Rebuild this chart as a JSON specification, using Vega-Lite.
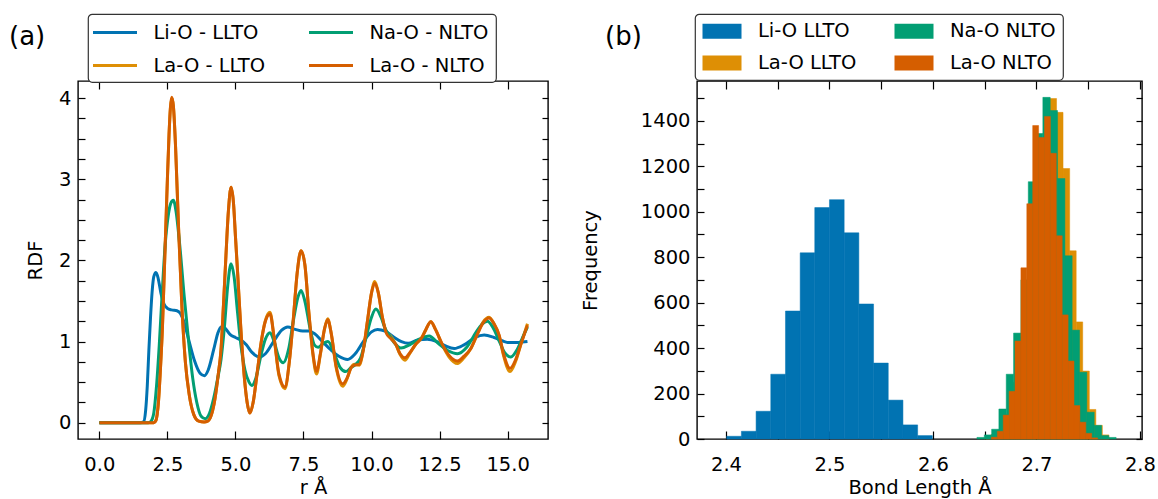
{
  "$schema": "https://vega.github.io/schema/vega-lite/v6.json",
  "background": "white",
  "padding": {"left": 8, "top": 12, "right": 0, "bottom": 0},
  "spacing": 29,
  "config": {
    "font": "DejaVu Sans",
    "view": {"stroke": "#000", "strokeWidth": 1.4},
    "axis": {"labelFont": "DejaVu Sans", "labelFontSize": 19.5, "labelColor": "#000", "titleFont": "DejaVu Sans", "titleFontSize": 19.5, "titleFontWeight": "normal", "titleColor": "#000", "tickColor": "#000", "tickWidth": 1.2, "domain": false, "grid": false, "labelFlush": false, "labelOverlap": false},
    "legend": {"labelFont": "DejaVu Sans", "labelFontSize": 19.5, "labelColor": "#000", "strokeColor": "#333", "strokeWidth": 1.2, "cornerRadius": 4, "fillColor": "#fff", "padding": 7, "rowPadding": 12}
  },
  "datasets": {
    "rdf": [
      {"series": "Li-O - LLTO", "r": 0, "rdf": 0}, {"series": "Li-O - LLTO", "r": 0.5, "rdf": 0}, {"series": "Li-O - LLTO", "r": 1.0, "rdf": 0}, {"series": "Li-O - LLTO", "r": 1.5, "rdf": 0}, {"series": "Li-O - LLTO", "r": 1.62, "rdf": 0.01}, {"series": "Li-O - LLTO", "r": 1.70, "rdf": 0.15}, {"series": "Li-O - LLTO", "r": 1.76, "rdf": 0.45}, {"series": "Li-O - LLTO", "r": 1.82, "rdf": 0.9}, {"series": "Li-O - LLTO", "r": 1.88, "rdf": 1.3}, {"series": "Li-O - LLTO", "r": 1.94, "rdf": 1.62}, {"series": "Li-O - LLTO", "r": 2.0, "rdf": 1.8}, {"series": "Li-O - LLTO", "r": 2.08, "rdf": 1.85}, {"series": "Li-O - LLTO", "r": 2.16, "rdf": 1.78}, {"series": "Li-O - LLTO", "r": 2.26, "rdf": 1.6}, {"series": "Li-O - LLTO", "r": 2.38, "rdf": 1.46}, {"series": "Li-O - LLTO", "r": 2.5, "rdf": 1.41}, {"series": "Li-O - LLTO", "r": 2.65, "rdf": 1.39}, {"series": "Li-O - LLTO", "r": 2.85, "rdf": 1.38}, {"series": "Li-O - LLTO", "r": 2.97, "rdf": 1.35}, {"series": "Li-O - LLTO", "r": 3.1, "rdf": 1.25}, {"series": "Li-O - LLTO", "r": 3.3, "rdf": 1.0}, {"series": "Li-O - LLTO", "r": 3.5, "rdf": 0.76}, {"series": "Li-O - LLTO", "r": 3.7, "rdf": 0.61}, {"series": "Li-O - LLTO", "r": 3.86, "rdf": 0.58}, {"series": "Li-O - LLTO", "r": 4.0, "rdf": 0.65}, {"series": "Li-O - LLTO", "r": 4.2, "rdf": 0.9}, {"series": "Li-O - LLTO", "r": 4.35, "rdf": 1.1}, {"series": "Li-O - LLTO", "r": 4.47, "rdf": 1.18}, {"series": "Li-O - LLTO", "r": 4.6, "rdf": 1.17}, {"series": "Li-O - LLTO", "r": 4.8, "rdf": 1.09}, {"series": "Li-O - LLTO", "r": 5.0, "rdf": 1.05}, {"series": "Li-O - LLTO", "r": 5.2, "rdf": 1.02}, {"series": "Li-O - LLTO", "r": 5.4, "rdf": 0.96}, {"series": "Li-O - LLTO", "r": 5.6, "rdf": 0.87}, {"series": "Li-O - LLTO", "r": 5.9, "rdf": 0.81}, {"series": "Li-O - LLTO", "r": 6.1, "rdf": 0.85}, {"series": "Li-O - LLTO", "r": 6.4, "rdf": 1.0}, {"series": "Li-O - LLTO", "r": 6.7, "rdf": 1.14}, {"series": "Li-O - LLTO", "r": 6.92, "rdf": 1.18}, {"series": "Li-O - LLTO", "r": 7.2, "rdf": 1.15}, {"series": "Li-O - LLTO", "r": 7.47, "rdf": 1.13}, {"series": "Li-O - LLTO", "r": 7.7, "rdf": 1.13}, {"series": "Li-O - LLTO", "r": 7.9, "rdf": 1.1}, {"series": "Li-O - LLTO", "r": 8.2, "rdf": 1.0}, {"series": "Li-O - LLTO", "r": 8.5, "rdf": 0.9}, {"series": "Li-O - LLTO", "r": 8.8, "rdf": 0.82}, {"series": "Li-O - LLTO", "r": 9.12, "rdf": 0.78}, {"series": "Li-O - LLTO", "r": 9.4, "rdf": 0.85}, {"series": "Li-O - LLTO", "r": 9.7, "rdf": 1.0}, {"series": "Li-O - LLTO", "r": 10.0, "rdf": 1.12}, {"series": "Li-O - LLTO", "r": 10.22, "rdf": 1.15}, {"series": "Li-O - LLTO", "r": 10.5, "rdf": 1.13}, {"series": "Li-O - LLTO", "r": 10.8, "rdf": 1.06}, {"series": "Li-O - LLTO", "r": 11.1, "rdf": 1.0}, {"series": "Li-O - LLTO", "r": 11.35, "rdf": 0.98}, {"series": "Li-O - LLTO", "r": 11.7, "rdf": 1.02}, {"series": "Li-O - LLTO", "r": 12.05, "rdf": 1.03}, {"series": "Li-O - LLTO", "r": 12.4, "rdf": 1.0}, {"series": "Li-O - LLTO", "r": 12.7, "rdf": 0.95}, {"series": "Li-O - LLTO", "r": 13.04, "rdf": 0.915}, {"series": "Li-O - LLTO", "r": 13.4, "rdf": 0.96}, {"series": "Li-O - LLTO", "r": 13.8, "rdf": 1.05}, {"series": "Li-O - LLTO", "r": 14.14, "rdf": 1.08}, {"series": "Li-O - LLTO", "r": 14.5, "rdf": 1.05}, {"series": "Li-O - LLTO", "r": 14.8, "rdf": 1.01}, {"series": "Li-O - LLTO", "r": 15.0, "rdf": 0.99}, {"series": "Li-O - LLTO", "r": 15.4, "rdf": 0.99}, {"series": "Li-O - LLTO", "r": 15.73, "rdf": 1.0},

      {"series": "Na-O - NLTO", "r": 0, "rdf": 0}, {"series": "Na-O - NLTO", "r": 1.0, "rdf": 0}, {"series": "Na-O - NLTO", "r": 1.8, "rdf": 0}, {"series": "Na-O - NLTO", "r": 1.9, "rdf": 0.02}, {"series": "Na-O - NLTO", "r": 2.0, "rdf": 0.12}, {"series": "Na-O - NLTO", "r": 2.1, "rdf": 0.45}, {"series": "Na-O - NLTO", "r": 2.2, "rdf": 0.95}, {"series": "Na-O - NLTO", "r": 2.3, "rdf": 1.55}, {"series": "Na-O - NLTO", "r": 2.42, "rdf": 2.2}, {"series": "Na-O - NLTO", "r": 2.53, "rdf": 2.55}, {"series": "Na-O - NLTO", "r": 2.62, "rdf": 2.7}, {"series": "Na-O - NLTO", "r": 2.72, "rdf": 2.74}, {"series": "Na-O - NLTO", "r": 2.82, "rdf": 2.6}, {"series": "Na-O - NLTO", "r": 2.95, "rdf": 2.2}, {"series": "Na-O - NLTO", "r": 3.12, "rdf": 1.55}, {"series": "Na-O - NLTO", "r": 3.28, "rdf": 1.0}, {"series": "Na-O - NLTO", "r": 3.43, "rdf": 0.55}, {"series": "Na-O - NLTO", "r": 3.58, "rdf": 0.25}, {"series": "Na-O - NLTO", "r": 3.74, "rdf": 0.08}, {"series": "Na-O - NLTO", "r": 3.89, "rdf": 0.05}, {"series": "Na-O - NLTO", "r": 4.05, "rdf": 0.12}, {"series": "Na-O - NLTO", "r": 4.2, "rdf": 0.3}, {"series": "Na-O - NLTO", "r": 4.35, "rdf": 0.55}, {"series": "Na-O - NLTO", "r": 4.47, "rdf": 0.78}, {"series": "Na-O - NLTO", "r": 4.6, "rdf": 1.2}, {"series": "Na-O - NLTO", "r": 4.72, "rdf": 1.7}, {"series": "Na-O - NLTO", "r": 4.84, "rdf": 1.96}, {"series": "Na-O - NLTO", "r": 4.95, "rdf": 1.8}, {"series": "Na-O - NLTO", "r": 5.08, "rdf": 1.35}, {"series": "Na-O - NLTO", "r": 5.2, "rdf": 0.96}, {"series": "Na-O - NLTO", "r": 5.35, "rdf": 0.65}, {"series": "Na-O - NLTO", "r": 5.5, "rdf": 0.5}, {"series": "Na-O - NLTO", "r": 5.6, "rdf": 0.46}, {"series": "Na-O - NLTO", "r": 5.75, "rdf": 0.55}, {"series": "Na-O - NLTO", "r": 5.95, "rdf": 0.85}, {"series": "Na-O - NLTO", "r": 6.1, "rdf": 1.03}, {"series": "Na-O - NLTO", "r": 6.27, "rdf": 1.11}, {"series": "Na-O - NLTO", "r": 6.42, "rdf": 1.0}, {"series": "Na-O - NLTO", "r": 6.6, "rdf": 0.8}, {"series": "Na-O - NLTO", "r": 6.76, "rdf": 0.74}, {"series": "Na-O - NLTO", "r": 6.95, "rdf": 0.9}, {"series": "Na-O - NLTO", "r": 7.15, "rdf": 1.3}, {"series": "Na-O - NLTO", "r": 7.3, "rdf": 1.55}, {"series": "Na-O - NLTO", "r": 7.41, "rdf": 1.63}, {"series": "Na-O - NLTO", "r": 7.55, "rdf": 1.5}, {"series": "Na-O - NLTO", "r": 7.75, "rdf": 1.15}, {"series": "Na-O - NLTO", "r": 7.9, "rdf": 0.96}, {"series": "Na-O - NLTO", "r": 8.04, "rdf": 0.93}, {"series": "Na-O - NLTO", "r": 8.2, "rdf": 0.97}, {"series": "Na-O - NLTO", "r": 8.4, "rdf": 1.0}, {"series": "Na-O - NLTO", "r": 8.6, "rdf": 0.88}, {"series": "Na-O - NLTO", "r": 8.85, "rdf": 0.68}, {"series": "Na-O - NLTO", "r": 9.06, "rdf": 0.63}, {"series": "Na-O - NLTO", "r": 9.25, "rdf": 0.68}, {"series": "Na-O - NLTO", "r": 9.42, "rdf": 0.72}, {"series": "Na-O - NLTO", "r": 9.6, "rdf": 0.8}, {"series": "Na-O - NLTO", "r": 9.8, "rdf": 1.05}, {"series": "Na-O - NLTO", "r": 10.0, "rdf": 1.3}, {"series": "Na-O - NLTO", "r": 10.16, "rdf": 1.4}, {"series": "Na-O - NLTO", "r": 10.35, "rdf": 1.3}, {"series": "Na-O - NLTO", "r": 10.5, "rdf": 1.16}, {"series": "Na-O - NLTO", "r": 10.65, "rdf": 1.08}, {"series": "Na-O - NLTO", "r": 10.85, "rdf": 0.98}, {"series": "Na-O - NLTO", "r": 11.08, "rdf": 0.92}, {"series": "Na-O - NLTO", "r": 11.4, "rdf": 0.96}, {"series": "Na-O - NLTO", "r": 11.75, "rdf": 1.03}, {"series": "Na-O - NLTO", "r": 12.12, "rdf": 1.07}, {"series": "Na-O - NLTO", "r": 12.45, "rdf": 0.98}, {"series": "Na-O - NLTO", "r": 12.8, "rdf": 0.89}, {"series": "Na-O - NLTO", "r": 13.16, "rdf": 0.85}, {"series": "Na-O - NLTO", "r": 13.5, "rdf": 0.93}, {"series": "Na-O - NLTO", "r": 13.85, "rdf": 1.12}, {"series": "Na-O - NLTO", "r": 14.05, "rdf": 1.21}, {"series": "Na-O - NLTO", "r": 14.26, "rdf": 1.25}, {"series": "Na-O - NLTO", "r": 14.45, "rdf": 1.18}, {"series": "Na-O - NLTO", "r": 14.7, "rdf": 1.0}, {"series": "Na-O - NLTO", "r": 14.9, "rdf": 0.86}, {"series": "Na-O - NLTO", "r": 15.12, "rdf": 0.81}, {"series": "Na-O - NLTO", "r": 15.35, "rdf": 0.9}, {"series": "Na-O - NLTO", "r": 15.55, "rdf": 1.05}, {"series": "Na-O - NLTO", "r": 15.73, "rdf": 1.18},

      {"series": "La-O - LLTO", "r": 0, "rdf": 0}, {"series": "La-O - LLTO", "r": 1.0, "rdf": 0}, {"series": "La-O - LLTO", "r": 2.0, "rdf": 0}, {"series": "La-O - LLTO", "r": 2.08, "rdf": 0.03}, {"series": "La-O - LLTO", "r": 2.17, "rdf": 0.25}, {"series": "La-O - LLTO", "r": 2.25, "rdf": 0.7}, {"series": "La-O - LLTO", "r": 2.32, "rdf": 1.2}, {"series": "La-O - LLTO", "r": 2.38, "rdf": 1.8}, {"series": "La-O - LLTO", "r": 2.44, "rdf": 2.4}, {"series": "La-O - LLTO", "r": 2.5, "rdf": 3.0}, {"series": "La-O - LLTO", "r": 2.56, "rdf": 3.55}, {"series": "La-O - LLTO", "r": 2.61, "rdf": 3.87}, {"series": "La-O - LLTO", "r": 2.66, "rdf": 4.0}, {"series": "La-O - LLTO", "r": 2.72, "rdf": 3.9}, {"series": "La-O - LLTO", "r": 2.8, "rdf": 3.4}, {"series": "La-O - LLTO", "r": 2.91, "rdf": 2.4}, {"series": "La-O - LLTO", "r": 3.03, "rdf": 1.45}, {"series": "La-O - LLTO", "r": 3.16, "rdf": 0.75}, {"series": "La-O - LLTO", "r": 3.3, "rdf": 0.35}, {"series": "La-O - LLTO", "r": 3.47, "rdf": 0.1}, {"series": "La-O - LLTO", "r": 3.65, "rdf": 0.02}, {"series": "La-O - LLTO", "r": 3.85, "rdf": 0.01}, {"series": "La-O - LLTO", "r": 3.98, "rdf": 0.02}, {"series": "La-O - LLTO", "r": 4.12, "rdf": 0.1}, {"series": "La-O - LLTO", "r": 4.25, "rdf": 0.3}, {"series": "La-O - LLTO", "r": 4.37, "rdf": 0.6}, {"series": "La-O - LLTO", "r": 4.47, "rdf": 0.9}, {"series": "La-O - LLTO", "r": 4.56, "rdf": 1.45}, {"series": "La-O - LLTO", "r": 4.65, "rdf": 2.05}, {"series": "La-O - LLTO", "r": 4.74, "rdf": 2.6}, {"series": "La-O - LLTO", "r": 4.84, "rdf": 2.9}, {"series": "La-O - LLTO", "r": 4.93, "rdf": 2.7}, {"series": "La-O - LLTO", "r": 5.0, "rdf": 2.3}, {"series": "La-O - LLTO", "r": 5.08, "rdf": 1.85}, {"series": "La-O - LLTO", "r": 5.2, "rdf": 1.15}, {"series": "La-O - LLTO", "r": 5.33, "rdf": 0.55}, {"series": "La-O - LLTO", "r": 5.43, "rdf": 0.25}, {"series": "La-O - LLTO", "r": 5.53, "rdf": 0.12}, {"series": "La-O - LLTO", "r": 5.65, "rdf": 0.25}, {"series": "La-O - LLTO", "r": 5.8, "rdf": 0.62}, {"series": "La-O - LLTO", "r": 5.95, "rdf": 1.0}, {"series": "La-O - LLTO", "r": 6.1, "rdf": 1.26}, {"series": "La-O - LLTO", "r": 6.27, "rdf": 1.36}, {"series": "La-O - LLTO", "r": 6.42, "rdf": 1.05}, {"series": "La-O - LLTO", "r": 6.6, "rdf": 0.58}, {"series": "La-O - LLTO", "r": 6.82, "rdf": 0.42}, {"series": "La-O - LLTO", "r": 6.98, "rdf": 0.75}, {"series": "La-O - LLTO", "r": 7.12, "rdf": 1.25}, {"series": "La-O - LLTO", "r": 7.27, "rdf": 1.85}, {"series": "La-O - LLTO", "r": 7.41, "rdf": 2.12}, {"series": "La-O - LLTO", "r": 7.55, "rdf": 1.95}, {"series": "La-O - LLTO", "r": 7.7, "rdf": 1.35}, {"series": "La-O - LLTO", "r": 7.85, "rdf": 0.83}, {"series": "La-O - LLTO", "r": 7.98, "rdf": 0.6}, {"series": "La-O - LLTO", "r": 8.12, "rdf": 0.84}, {"series": "La-O - LLTO", "r": 8.27, "rdf": 1.15}, {"series": "La-O - LLTO", "r": 8.39, "rdf": 1.28}, {"series": "La-O - LLTO", "r": 8.52, "rdf": 1.1}, {"series": "La-O - LLTO", "r": 8.7, "rdf": 0.68}, {"series": "La-O - LLTO", "r": 8.94, "rdf": 0.45}, {"series": "La-O - LLTO", "r": 9.1, "rdf": 0.54}, {"series": "La-O - LLTO", "r": 9.25, "rdf": 0.68}, {"series": "La-O - LLTO", "r": 9.37, "rdf": 0.72}, {"series": "La-O - LLTO", "r": 9.55, "rdf": 0.71}, {"series": "La-O - LLTO", "r": 9.7, "rdf": 0.9}, {"series": "La-O - LLTO", "r": 9.85, "rdf": 1.25}, {"series": "La-O - LLTO", "r": 10.0, "rdf": 1.6}, {"series": "La-O - LLTO", "r": 10.12, "rdf": 1.74}, {"series": "La-O - LLTO", "r": 10.25, "rdf": 1.6}, {"series": "La-O - LLTO", "r": 10.4, "rdf": 1.3}, {"series": "La-O - LLTO", "r": 10.55, "rdf": 1.12}, {"series": "La-O - LLTO", "r": 10.7, "rdf": 1.07}, {"series": "La-O - LLTO", "r": 10.9, "rdf": 0.96}, {"series": "La-O - LLTO", "r": 11.05, "rdf": 0.84}, {"series": "La-O - LLTO", "r": 11.23, "rdf": 0.77}, {"series": "La-O - LLTO", "r": 11.4, "rdf": 0.85}, {"series": "La-O - LLTO", "r": 11.63, "rdf": 0.97}, {"series": "La-O - LLTO", "r": 11.85, "rdf": 1.05}, {"series": "La-O - LLTO", "r": 12.0, "rdf": 1.15}, {"series": "La-O - LLTO", "r": 12.18, "rdf": 1.245}, {"series": "La-O - LLTO", "r": 12.35, "rdf": 1.15}, {"series": "La-O - LLTO", "r": 12.61, "rdf": 0.95}, {"series": "La-O - LLTO", "r": 12.85, "rdf": 0.81}, {"series": "La-O - LLTO", "r": 13.16, "rdf": 0.73}, {"series": "La-O - LLTO", "r": 13.4, "rdf": 0.8}, {"series": "La-O - LLTO", "r": 13.65, "rdf": 0.915}, {"series": "La-O - LLTO", "r": 13.9, "rdf": 1.1}, {"series": "La-O - LLTO", "r": 14.1, "rdf": 1.24}, {"series": "La-O - LLTO", "r": 14.32, "rdf": 1.3}, {"series": "La-O - LLTO", "r": 14.5, "rdf": 1.22}, {"series": "La-O - LLTO", "r": 14.69, "rdf": 1.07}, {"series": "La-O - LLTO", "r": 14.85, "rdf": 0.83}, {"series": "La-O - LLTO", "r": 15.09, "rdf": 0.63}, {"series": "La-O - LLTO", "r": 15.3, "rdf": 0.76}, {"series": "La-O - LLTO", "r": 15.5, "rdf": 0.98}, {"series": "La-O - LLTO", "r": 15.73, "rdf": 1.22},

      {"series": "La-O - NLTO", "r": 0, "rdf": 0}, {"series": "La-O - NLTO", "r": 1.0, "rdf": 0}, {"series": "La-O - NLTO", "r": 2.0, "rdf": 0}, {"series": "La-O - NLTO", "r": 2.08, "rdf": 0.03}, {"series": "La-O - NLTO", "r": 2.17, "rdf": 0.25}, {"series": "La-O - NLTO", "r": 2.25, "rdf": 0.7}, {"series": "La-O - NLTO", "r": 2.32, "rdf": 1.2}, {"series": "La-O - NLTO", "r": 2.38, "rdf": 1.8}, {"series": "La-O - NLTO", "r": 2.44, "rdf": 2.4}, {"series": "La-O - NLTO", "r": 2.5, "rdf": 3.0}, {"series": "La-O - NLTO", "r": 2.56, "rdf": 3.55}, {"series": "La-O - NLTO", "r": 2.61, "rdf": 3.88}, {"series": "La-O - NLTO", "r": 2.66, "rdf": 4.01}, {"series": "La-O - NLTO", "r": 2.72, "rdf": 3.9}, {"series": "La-O - NLTO", "r": 2.8, "rdf": 3.4}, {"series": "La-O - NLTO", "r": 2.91, "rdf": 2.4}, {"series": "La-O - NLTO", "r": 3.03, "rdf": 1.45}, {"series": "La-O - NLTO", "r": 3.16, "rdf": 0.75}, {"series": "La-O - NLTO", "r": 3.3, "rdf": 0.35}, {"series": "La-O - NLTO", "r": 3.47, "rdf": 0.1}, {"series": "La-O - NLTO", "r": 3.65, "rdf": 0.02}, {"series": "La-O - NLTO", "r": 3.85, "rdf": 0.01}, {"series": "La-O - NLTO", "r": 3.98, "rdf": 0.02}, {"series": "La-O - NLTO", "r": 4.12, "rdf": 0.1}, {"series": "La-O - NLTO", "r": 4.25, "rdf": 0.3}, {"series": "La-O - NLTO", "r": 4.37, "rdf": 0.6}, {"series": "La-O - NLTO", "r": 4.47, "rdf": 0.9}, {"series": "La-O - NLTO", "r": 4.56, "rdf": 1.45}, {"series": "La-O - NLTO", "r": 4.65, "rdf": 2.05}, {"series": "La-O - NLTO", "r": 4.74, "rdf": 2.6}, {"series": "La-O - NLTO", "r": 4.84, "rdf": 2.9}, {"series": "La-O - NLTO", "r": 4.93, "rdf": 2.7}, {"series": "La-O - NLTO", "r": 5.0, "rdf": 2.3}, {"series": "La-O - NLTO", "r": 5.08, "rdf": 1.85}, {"series": "La-O - NLTO", "r": 5.2, "rdf": 1.15}, {"series": "La-O - NLTO", "r": 5.33, "rdf": 0.55}, {"series": "La-O - NLTO", "r": 5.43, "rdf": 0.25}, {"series": "La-O - NLTO", "r": 5.53, "rdf": 0.12}, {"series": "La-O - NLTO", "r": 5.65, "rdf": 0.25}, {"series": "La-O - NLTO", "r": 5.8, "rdf": 0.62}, {"series": "La-O - NLTO", "r": 5.95, "rdf": 1.0}, {"series": "La-O - NLTO", "r": 6.1, "rdf": 1.25}, {"series": "La-O - NLTO", "r": 6.27, "rdf": 1.34}, {"series": "La-O - NLTO", "r": 6.42, "rdf": 1.05}, {"series": "La-O - NLTO", "r": 6.6, "rdf": 0.6}, {"series": "La-O - NLTO", "r": 6.82, "rdf": 0.44}, {"series": "La-O - NLTO", "r": 6.98, "rdf": 0.75}, {"series": "La-O - NLTO", "r": 7.12, "rdf": 1.25}, {"series": "La-O - NLTO", "r": 7.27, "rdf": 1.85}, {"series": "La-O - NLTO", "r": 7.41, "rdf": 2.12}, {"series": "La-O - NLTO", "r": 7.55, "rdf": 1.95}, {"series": "La-O - NLTO", "r": 7.7, "rdf": 1.35}, {"series": "La-O - NLTO", "r": 7.85, "rdf": 0.85}, {"series": "La-O - NLTO", "r": 7.98, "rdf": 0.635}, {"series": "La-O - NLTO", "r": 8.12, "rdf": 0.85}, {"series": "La-O - NLTO", "r": 8.27, "rdf": 1.15}, {"series": "La-O - NLTO", "r": 8.39, "rdf": 1.27}, {"series": "La-O - NLTO", "r": 8.52, "rdf": 1.1}, {"series": "La-O - NLTO", "r": 8.7, "rdf": 0.7}, {"series": "La-O - NLTO", "r": 8.94, "rdf": 0.48}, {"series": "La-O - NLTO", "r": 9.1, "rdf": 0.55}, {"series": "La-O - NLTO", "r": 9.25, "rdf": 0.68}, {"series": "La-O - NLTO", "r": 9.37, "rdf": 0.71}, {"series": "La-O - NLTO", "r": 9.55, "rdf": 0.72}, {"series": "La-O - NLTO", "r": 9.7, "rdf": 0.9}, {"series": "La-O - NLTO", "r": 9.85, "rdf": 1.25}, {"series": "La-O - NLTO", "r": 10.0, "rdf": 1.6}, {"series": "La-O - NLTO", "r": 10.12, "rdf": 1.72}, {"series": "La-O - NLTO", "r": 10.25, "rdf": 1.6}, {"series": "La-O - NLTO", "r": 10.4, "rdf": 1.3}, {"series": "La-O - NLTO", "r": 10.55, "rdf": 1.1}, {"series": "La-O - NLTO", "r": 10.7, "rdf": 1.04}, {"series": "La-O - NLTO", "r": 10.9, "rdf": 0.96}, {"series": "La-O - NLTO", "r": 11.05, "rdf": 0.85}, {"series": "La-O - NLTO", "r": 11.23, "rdf": 0.8}, {"series": "La-O - NLTO", "r": 11.4, "rdf": 0.86}, {"series": "La-O - NLTO", "r": 11.63, "rdf": 0.97}, {"series": "La-O - NLTO", "r": 11.85, "rdf": 1.05}, {"series": "La-O - NLTO", "r": 12.0, "rdf": 1.15}, {"series": "La-O - NLTO", "r": 12.18, "rdf": 1.245}, {"series": "La-O - NLTO", "r": 12.35, "rdf": 1.15}, {"series": "La-O - NLTO", "r": 12.61, "rdf": 0.96}, {"series": "La-O - NLTO", "r": 12.85, "rdf": 0.83}, {"series": "La-O - NLTO", "r": 13.16, "rdf": 0.76}, {"series": "La-O - NLTO", "r": 13.4, "rdf": 0.82}, {"series": "La-O - NLTO", "r": 13.65, "rdf": 0.915}, {"series": "La-O - NLTO", "r": 13.9, "rdf": 1.1}, {"series": "La-O - NLTO", "r": 14.1, "rdf": 1.23}, {"series": "La-O - NLTO", "r": 14.32, "rdf": 1.29}, {"series": "La-O - NLTO", "r": 14.5, "rdf": 1.22}, {"series": "La-O - NLTO", "r": 14.69, "rdf": 1.08}, {"series": "La-O - NLTO", "r": 14.85, "rdf": 0.85}, {"series": "La-O - NLTO", "r": 15.09, "rdf": 0.67}, {"series": "La-O - NLTO", "r": 15.3, "rdf": 0.78}, {"series": "La-O - NLTO", "r": 15.5, "rdf": 0.98}, {"series": "La-O - NLTO", "r": 15.73, "rdf": 1.2}
    ],
    "hist": [
      {"kind": "Li-O LLTO", "x0": 2.4007, "x1": 2.4149, "n": 12}, {"kind": "Li-O LLTO", "x0": 2.4149, "x1": 2.4291, "n": 34}, {"kind": "Li-O LLTO", "x0": 2.4291, "x1": 2.4433, "n": 122}, {"kind": "Li-O LLTO", "x0": 2.4433, "x1": 2.4575, "n": 285}, {"kind": "Li-O LLTO", "x0": 2.4575, "x1": 2.4717, "n": 563}, {"kind": "Li-O LLTO", "x0": 2.4717, "x1": 2.4858, "n": 819}, {"kind": "Li-O LLTO", "x0": 2.4858, "x1": 2.5000, "n": 1018}, {"kind": "Li-O LLTO", "x0": 2.5000, "x1": 2.5142, "n": 1053}, {"kind": "Li-O LLTO", "x0": 2.5142, "x1": 2.5284, "n": 907}, {"kind": "Li-O LLTO", "x0": 2.5284, "x1": 2.5426, "n": 594}, {"kind": "Li-O LLTO", "x0": 2.5426, "x1": 2.5568, "n": 334}, {"kind": "Li-O LLTO", "x0": 2.5568, "x1": 2.5710, "n": 171}, {"kind": "Li-O LLTO", "x0": 2.5710, "x1": 2.5852, "n": 62}, {"kind": "Li-O LLTO", "x0": 2.5852, "x1": 2.5994, "n": 15},

      {"kind": "La-O LLTO", "x0": 2.6498, "x1": 2.6561, "n": 5}, {"kind": "La-O LLTO", "x0": 2.6561, "x1": 2.6624, "n": 20}, {"kind": "La-O LLTO", "x0": 2.6624, "x1": 2.6688, "n": 40}, {"kind": "La-O LLTO", "x0": 2.6688, "x1": 2.6751, "n": 110}, {"kind": "La-O LLTO", "x0": 2.6751, "x1": 2.6814, "n": 250}, {"kind": "La-O LLTO", "x0": 2.6814, "x1": 2.6878, "n": 450}, {"kind": "La-O LLTO", "x0": 2.6878, "x1": 2.6941, "n": 700}, {"kind": "La-O LLTO", "x0": 2.6941, "x1": 2.7004, "n": 1000}, {"kind": "La-O LLTO", "x0": 2.7004, "x1": 2.7068, "n": 1300}, {"kind": "La-O LLTO", "x0": 2.7068, "x1": 2.7131, "n": 1450}, {"kind": "La-O LLTO", "x0": 2.7131, "x1": 2.7194, "n": 1498}, {"kind": "La-O LLTO", "x0": 2.7194, "x1": 2.7257, "n": 1437}, {"kind": "La-O LLTO", "x0": 2.7257, "x1": 2.7321, "n": 1190}, {"kind": "La-O LLTO", "x0": 2.7321, "x1": 2.7384, "n": 828}, {"kind": "La-O LLTO", "x0": 2.7384, "x1": 2.7447, "n": 515}, {"kind": "La-O LLTO", "x0": 2.7447, "x1": 2.7511, "n": 299}, {"kind": "La-O LLTO", "x0": 2.7511, "x1": 2.7574, "n": 130}, {"kind": "La-O LLTO", "x0": 2.7574, "x1": 2.7637, "n": 60}, {"kind": "La-O LLTO", "x0": 2.7637, "x1": 2.7700, "n": 18},

      {"kind": "Na-O NLTO", "x0": 2.6425, "x1": 2.6496, "n": 7}, {"kind": "Na-O NLTO", "x0": 2.6496, "x1": 2.6567, "n": 18}, {"kind": "Na-O NLTO", "x0": 2.6567, "x1": 2.6637, "n": 43}, {"kind": "Na-O NLTO", "x0": 2.6637, "x1": 2.6708, "n": 132}, {"kind": "Na-O NLTO", "x0": 2.6708, "x1": 2.6779, "n": 285}, {"kind": "Na-O NLTO", "x0": 2.6779, "x1": 2.6850, "n": 466}, {"kind": "Na-O NLTO", "x0": 2.6850, "x1": 2.6921, "n": 700}, {"kind": "Na-O NLTO", "x0": 2.6921, "x1": 2.6991, "n": 1132}, {"kind": "Na-O NLTO", "x0": 2.6991, "x1": 2.7062, "n": 1344}, {"kind": "Na-O NLTO", "x0": 2.7062, "x1": 2.7133, "n": 1503}, {"kind": "Na-O NLTO", "x0": 2.7133, "x1": 2.7204, "n": 1445}, {"kind": "Na-O NLTO", "x0": 2.7204, "x1": 2.7275, "n": 1146}, {"kind": "Na-O NLTO", "x0": 2.7275, "x1": 2.7345, "n": 806}, {"kind": "Na-O NLTO", "x0": 2.7345, "x1": 2.7416, "n": 479}, {"kind": "Na-O NLTO", "x0": 2.7416, "x1": 2.7487, "n": 294}, {"kind": "Na-O NLTO", "x0": 2.7487, "x1": 2.7558, "n": 118}, {"kind": "Na-O NLTO", "x0": 2.7558, "x1": 2.7629, "n": 60}, {"kind": "Na-O NLTO", "x0": 2.7629, "x1": 2.7699, "n": 15}, {"kind": "Na-O NLTO", "x0": 2.7699, "x1": 2.7770, "n": 7},

      {"kind": "La-O NLTO", "x0": 2.6565, "x1": 2.6622, "n": 8}, {"kind": "La-O NLTO", "x0": 2.6622, "x1": 2.6679, "n": 34}, {"kind": "La-O NLTO", "x0": 2.6679, "x1": 2.6736, "n": 105}, {"kind": "La-O NLTO", "x0": 2.6736, "x1": 2.6793, "n": 210}, {"kind": "La-O NLTO", "x0": 2.6793, "x1": 2.6850, "n": 431}, {"kind": "La-O NLTO", "x0": 2.6850, "x1": 2.6907, "n": 753}, {"kind": "La-O NLTO", "x0": 2.6907, "x1": 2.6964, "n": 1035}, {"kind": "La-O NLTO", "x0": 2.6964, "x1": 2.7021, "n": 1379}, {"kind": "La-O NLTO", "x0": 2.7021, "x1": 2.7078, "n": 1326}, {"kind": "La-O NLTO", "x0": 2.7078, "x1": 2.7135, "n": 1419}, {"kind": "La-O NLTO", "x0": 2.7135, "x1": 2.7192, "n": 1257}, {"kind": "La-O NLTO", "x0": 2.7192, "x1": 2.7249, "n": 894}, {"kind": "La-O NLTO", "x0": 2.7249, "x1": 2.7306, "n": 546}, {"kind": "La-O NLTO", "x0": 2.7306, "x1": 2.7363, "n": 343}, {"kind": "La-O NLTO", "x0": 2.7363, "x1": 2.7420, "n": 147}, {"kind": "La-O NLTO", "x0": 2.7420, "x1": 2.7477, "n": 74}, {"kind": "La-O NLTO", "x0": 2.7477, "x1": 2.7534, "n": 25}, {"kind": "La-O NLTO", "x0": 2.7534, "x1": 2.7591, "n": 5}
    ]
  },
  "resolve": {"scale": {"color": "independent", "stroke": "independent"}, "legend": {"color": "independent"}},
  "hconcat": [
    {
      "width": 470,
      "height": 358,
      "title": {"text": "(a)", "anchor": "start", "frame": "group", "fontSize": 26, "fontWeight": "normal", "font": "DejaVu Sans", "color": "#000", "dx": -69, "dy": 37, "offset": 0},
      "data": {"name": "rdf"},
      "resolve": {"axis": {"x": "independent", "y": "independent"}},
      "layer": [
        {
          "transform": [{"filter": "datum.series === 'Li-O - LLTO'"}],
          "mark": {"type": "line", "interpolate": "monotone", "strokeWidth": 3},
          "encoding": {
            "x": {"field": "r", "type": "quantitative", "scale": {"domain": [-0.785, 16.485], "nice": false, "zero": false}, "axis": {"orient": "bottom", "values": [0, 2.5, 5, 7.5, 10, 12.5, 15], "format": ".1f", "tickSize": -8, "labelPadding": 24, "title": "r Å", "titlePadding": 5}},
            "y": {"field": "rdf", "type": "quantitative", "scale": {"domain": [-0.2, 4.21], "nice": false, "zero": false}, "axis": {"orient": "left", "values": [0, 0.25, 0.5, 0.75, 1, 1.25, 1.5, 1.75, 2, 2.25, 2.5, 2.75, 3, 3.25, 3.5, 3.75, 4], "labelExpr": "datum.value % 1 === 0 ? format(datum.value, 'd') : ''", "tickSize": -7, "labelPadding": 14, "title": "RDF", "titlePadding": 13}},
            "color": {"field": "series", "type": "nominal", "scale": {"domain": ["Li-O - LLTO", "La-O - LLTO", "Na-O - NLTO", "La-O - NLTO"], "range": ["#0173B2", "#DE8F05", "#029E73", "#D55E00"]}, "legend": {"orient": "none", "legendX": 10, "legendY": -67, "columns": 2, "title": null, "symbolType": "M-2.2,0H2.2", "symbolSize": 400, "symbolStrokeWidth": 3, "symbolOffset": 8.5, "labelOffset": 27, "columnPadding": 38}}
          }
        },
        {
          "transform": [{"filter": "datum.series === 'La-O - LLTO'"}],
          "mark": {"type": "line", "interpolate": "monotone", "strokeWidth": 3},
          "encoding": {
            "x": {"field": "r", "type": "quantitative", "axis": {"orient": "top", "values": [0, 2.5, 5, 7.5, 10, 12.5, 15], "labels": false, "tickSize": -8, "title": null}},
            "y": {"field": "rdf", "type": "quantitative", "axis": {"orient": "right", "values": [0, 0.25, 0.5, 0.75, 1, 1.25, 1.5, 1.75, 2, 2.25, 2.5, 2.75, 3, 3.25, 3.5, 3.75, 4], "labels": false, "tickSize": -6, "title": null}},
            "color": {"field": "series", "type": "nominal"}
          }
        },
        {
          "transform": [{"filter": "datum.series === 'Na-O - NLTO'"}],
          "mark": {"type": "line", "interpolate": "monotone", "strokeWidth": 3},
          "encoding": {
            "x": {"field": "r", "type": "quantitative", "axis": null},
            "y": {"field": "rdf", "type": "quantitative", "axis": null},
            "color": {"field": "series", "type": "nominal"}
          }
        },
        {
          "transform": [{"filter": "datum.series === 'La-O - NLTO'"}],
          "mark": {"type": "line", "interpolate": "monotone", "strokeWidth": 3},
          "encoding": {
            "x": {"field": "r", "type": "quantitative", "axis": null},
            "y": {"field": "rdf", "type": "quantitative", "axis": null},
            "color": {"field": "series", "type": "nominal"}
          }
        }
      ]
    },
    {
      "width": 445,
      "height": 358,
      "title": {"text": "(b)", "anchor": "start", "frame": "group", "fontSize": 26, "fontWeight": "normal", "font": "DejaVu Sans", "color": "#000", "dx": -92, "dy": 37, "offset": 0},
      "data": {"name": "hist"},
      "resolve": {"axis": {"x": "independent", "y": "independent"}},
      "layer": [
        {
          "transform": [{"filter": "datum.kind === 'Li-O LLTO'"}],
          "mark": {"type": "rect", "strokeWidth": 0.5},
          "encoding": {
            "x": {"field": "x0", "type": "quantitative", "scale": {"domain": [2.372, 2.802], "nice": false, "zero": false}, "axis": {"orient": "bottom", "values": [2.4, 2.45, 2.5, 2.55, 2.6, 2.65, 2.7, 2.75, 2.8], "labelExpr": "abs(datum.value * 10 - round(datum.value * 10)) < 0.001 ? format(datum.value, '.1f') : ''", "tickSize": -8, "labelPadding": 24, "title": "Bond Length Å", "titlePadding": 5}},
            "x2": {"field": "x1"},
            "y": {"field": "n", "type": "quantitative", "scale": {"domain": [0, 1575], "nice": false}, "axis": {"orient": "left", "values": [0, 100, 200, 300, 400, 500, 600, 700, 800, 900, 1000, 1100, 1200, 1300, 1400, 1500], "labelExpr": "datum.value % 200 === 0 ? format(datum.value, 'd') : ''", "tickSize": -7, "labelPadding": 14, "title": "Frequency", "titlePadding": 40}},
            "y2": {"datum": 0},
            "color": {"field": "kind", "type": "nominal", "scale": {"domain": ["Li-O LLTO", "La-O LLTO", "Na-O NLTO", "La-O NLTO"], "range": ["#0173B2", "#DE8F05", "#029E73", "#D55E00"]}, "legend": {"orient": "none", "legendX": -2, "legendY": -67, "columns": 2, "title": null, "symbolType": "M-1.95,-0.75H1.95V0.75H-1.95Z", "symbolSize": 400, "symbolStrokeWidth": 0, "symbolOffset": 10, "labelOffset": 26, "columnPadding": 37}},
            "stroke": {"field": "kind", "type": "nominal", "scale": {"domain": ["Li-O LLTO", "La-O LLTO", "Na-O NLTO", "La-O NLTO"], "range": ["#0173B2", "#DE8F05", "#029E73", "#D55E00"]}, "legend": null}
          }
        },
        {
          "transform": [{"filter": "datum.kind === 'La-O LLTO'"}],
          "mark": {"type": "rect", "strokeWidth": 0.5},
          "encoding": {
            "x": {"field": "x0", "type": "quantitative", "axis": {"orient": "top", "values": [2.4, 2.45, 2.5, 2.55, 2.6, 2.65, 2.7, 2.75, 2.8], "labels": false, "tickSize": -8, "title": null}},
            "x2": {"field": "x1"},
            "y": {"field": "n", "type": "quantitative", "axis": {"orient": "right", "values": [0, 100, 200, 300, 400, 500, 600, 700, 800, 900, 1000, 1100, 1200, 1300, 1400, 1500], "labels": false, "tickSize": -6, "title": null}},
            "y2": {"datum": 0},
            "color": {"field": "kind", "type": "nominal"},
            "stroke": {"field": "kind", "type": "nominal", "legend": null}
          }
        },
        {
          "transform": [{"filter": "datum.kind === 'Na-O NLTO'"}],
          "mark": {"type": "rect", "strokeWidth": 0.5},
          "encoding": {
            "x": {"field": "x0", "type": "quantitative", "axis": null},
            "x2": {"field": "x1"},
            "y": {"field": "n", "type": "quantitative", "axis": null},
            "y2": {"datum": 0},
            "color": {"field": "kind", "type": "nominal"},
            "stroke": {"field": "kind", "type": "nominal", "legend": null}
          }
        },
        {
          "transform": [{"filter": "datum.kind === 'La-O NLTO'"}],
          "mark": {"type": "rect", "strokeWidth": 0.5},
          "encoding": {
            "x": {"field": "x0", "type": "quantitative", "axis": null},
            "x2": {"field": "x1"},
            "y": {"field": "n", "type": "quantitative", "axis": null},
            "y2": {"datum": 0},
            "color": {"field": "kind", "type": "nominal"},
            "stroke": {"field": "kind", "type": "nominal", "legend": null}
          }
        }
      ]
    }
  ]
}
